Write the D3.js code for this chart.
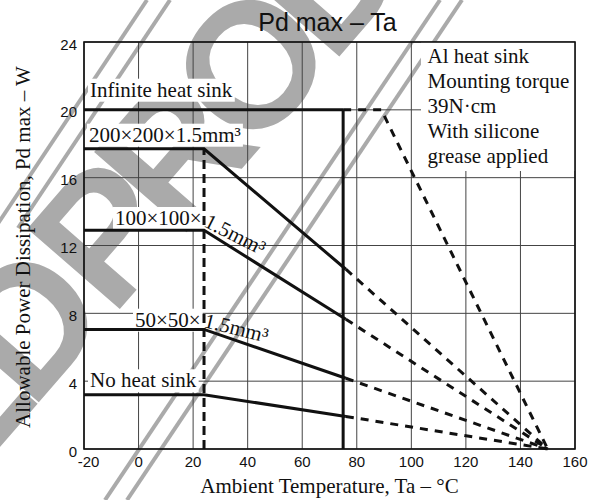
<!DOCTYPE html>
<html>
<head>
<meta charset="utf-8">
<script src="https://cdn.jsdelivr.net/npm/d3@7"></script>
<style>
  html, body { margin: 0; padding: 0; background: #fff; }
  svg { display: block; }
</style>
</head>
<body>
<svg id="chart" width="602" height="500"></svg>
<script>
// ---------- data ----------
const xTicks = [-20, 0, 20, 40, 60, 80, 100, 120, 140, 160];
const yTicks = [0, 4, 8, 12, 16, 20, 24];
const curveNames = ["Infinite heat sink", "200×200×1.5mm³", "100×100×1.5mm³", "50×50×1.5mm³", "No heat sink"];
const flatPd = [20, 17.7, 12.9, 7.05, 3.2];          // W, flat region
const kneeTa = [89, 24, 24, 24, 24];                 // °C where derating starts
const solidEndTa = [75, 76, 76, 76, 76];             // °C where solid line ends
const pdAtSolidEnd = [20, 10.6, 7.65, 4.17, 1.92];   // W at solid end
const tjMax = 150;                                   // °C, Pd = 0
const markerTa = 24;                                 // dashed vertical
const caseLimitTa = 75;                              // solid vertical
const noteLines = ["Al heat sink", "Mounting torque", "39N·cm", "With silicone", "grease applied"];
const watermarkWords = ["DISCONTINUED", "PRODUCT"];

// ---------- setup ----------
const svg = d3.select("#chart");
const SERIF = "'Liberation Serif','Times New Roman',Times,serif";
const SANS = "'Liberation Sans',Arial,Helvetica,sans-serif";
const x = d3.scaleLinear().domain([-20, 160]).range([84, 575]);
const y = d3.scaleLinear().domain([0, 24]).range([449, 42]);
const line = d3.line().x(d => x(d[0])).y(d => y(d[1]));

svg.append("rect").attr("width", 602).attr("height", 500).attr("fill", "#fff");

// ---------- watermark ----------
const wm = svg.append("g").attr("class", "watermark");
[[[147, 0], [-5, 228]], [[170, 0], [18, 228]], [[440, 0], [105, 500]], [[462, 0], [127, 500]]]
  .forEach(p => wm.append("line")
    .attr("x1", p[0][0]).attr("y1", p[0][1]).attr("x2", p[1][0]).attr("y2", p[1][1])
    .attr("stroke", "#aaa").attr("stroke-width", 4));
const wg = wm.append("g").attr("transform", "translate(112,318) rotate(-49)");
wg.append("text").attr("x", 0).attr("y", 0)
  .attr("font-family", SANS).attr("font-weight", "bold").attr("font-size", 178)
  .attr("letter-spacing", -17).attr("fill", "#aaa").text(watermarkWords[1]);
wg.append("text").attr("x", -12).attr("y", 0).attr("text-anchor", "end")
  .attr("font-family", SANS).attr("font-weight", "bold").attr("font-size", 178)
  .attr("letter-spacing", -17).attr("fill", "#aaa").text(watermarkWords[0]);

// ---------- grid ----------
const grid = svg.append("g").attr("stroke", "#444").attr("stroke-width", 1);
grid.selectAll(".gx").data(xTicks).join("line")
  .attr("x1", d => x(d)).attr("x2", d => x(d)).attr("y1", y(0)).attr("y2", y(24));
grid.selectAll(".gy").data(yTicks).join("line")
  .attr("x1", x(-20)).attr("x2", x(160)).attr("y1", d => y(d)).attr("y2", d => y(d));

// ---------- tick labels ----------
svg.append("g").selectAll("text").data(yTicks).join("text")
  .attr("x", 77).attr("y", d => y(d) + 7.5).attr("text-anchor", "end")
  .attr("font-family", SANS).attr("font-size", 15).attr("fill", "#111").text(d => d);
svg.append("g").selectAll("text").data(xTicks).join("text")
  .attr("x", d => x(d) + (d === -20 ? 4.5 : 0)).attr("y", 467).attr("text-anchor", "middle")
  .attr("font-family", SANS).attr("font-size", 15).attr("fill", "#111").text(d => d);

// ---------- label backgrounds & labels ----------
const labelPos = [
  { x: 90, y: 96.7 },
  { x: 89, y: 141.7 },
  { x: 115, y: 225 },
  { x: 135, y: 326.7 },
  { x: 90, y: 387.3 }
];
const rotPart = [null, null, { x: 203, y: 226, a: 27 }, { x: 203, y: 327, a: 14 }, null];
const labelsG = svg.append("g");
curveNames.forEach((name, i) => {
  const r = rotPart[i];
  const first = r ? name.slice(0, name.indexOf("1.5")) : name;
  const bg = labelsG.append("rect").attr("fill", "#fff");
  const t = labelsG.append("text").attr("x", labelPos[i].x).attr("y", labelPos[i].y)
    .attr("font-family", SERIF).attr("font-size", 21).attr("fill", "#111").text(first);
  const bb = t.node().getBBox();
  bg.attr("x", bb.x - 2).attr("y", bb.y + 1).attr("width", bb.width + 4).attr("height", bb.height - 1);
});

// note box
svg.append("rect").attr("x", 421).attr("y", 42).attr("width", 154).attr("height", 129).attr("fill", "#fff");
svg.append("g").selectAll("text").data(noteLines).join("text")
  .attr("x", 427.5).attr("y", (d, i) => 63.3 + i * 25)
  .attr("font-family", SERIF).attr("font-size", 21).attr("fill", "#111").text(d => d);

// ---------- data lines ----------
const dataG = svg.append("g").attr("fill", "none").attr("stroke", "#111").attr("stroke-width", 3);
curveNames.forEach((name, i) => {
  const solid = [[-20, flatPd[i]]];
  if (kneeTa[i] < solidEndTa[i]) solid.push([kneeTa[i], flatPd[i]]);
  solid.push([solidEndTa[i], pdAtSolidEnd[i]]);
  dataG.append("path").attr("d", line(solid));
  const dashed = [[solidEndTa[i], pdAtSolidEnd[i]]];
  if (kneeTa[i] > solidEndTa[i]) dashed.push([kneeTa[i], flatPd[i]]);
  dashed.push([tjMax, 0]);
  dataG.append("path").attr("d", line(dashed)).attr("stroke-dasharray", "8,7");
});
dataG.append("path").attr("d", line([[markerTa, 0], [markerTa, flatPd[1]]])).attr("stroke-dasharray", "9,5");
dataG.append("path").attr("d", line([[caseLimitTa, 0], [caseLimitTa, flatPd[0]]]));

// rotated label parts (drawn over lines)
curveNames.forEach((name, i) => {
  const r = rotPart[i];
  if (!r) return;
  svg.append("text").attr("transform", `translate(${r.x},${r.y}) rotate(${r.a})`)
    .attr("font-family", SERIF).attr("font-size", 21).attr("fill", "#111")
    .text(name.slice(name.indexOf("1.5")));
});

// ---------- frame ----------
svg.append("rect").attr("x", x(-20)).attr("y", y(24)).attr("width", x(160) - x(-20)).attr("height", y(0) - y(24))
  .attr("fill", "none").attr("stroke", "#111").attr("stroke-width", 1.6);

// ---------- titles ----------
svg.append("text").attr("x", 327.5).attr("y", 31).attr("text-anchor", "middle")
  .attr("font-family", SANS).attr("font-size", 25).attr("fill", "#111").text("Pd max – Ta");
svg.append("text").attr("x", 329.5).attr("y", 492.5).attr("text-anchor", "middle")
  .attr("font-family", SERIF).attr("font-size", 21).attr("fill", "#111").text("Ambient Temperature, Ta – °C");
svg.append("text").attr("transform", "translate(30,247) rotate(-90)").attr("text-anchor", "middle")
  .attr("font-family", SERIF).attr("font-size", 21).attr("fill", "#111").text("Allowable Power Dissipation, Pd max – W");
</script>
</body>
</html>
